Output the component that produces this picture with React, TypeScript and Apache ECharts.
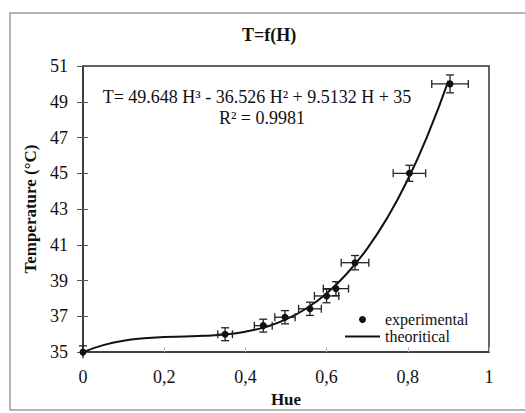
import React, { useEffect, useRef } from "react";
import * as echarts from "echarts";

// Experimental measurements (Hue, Temperature °C) with error bars
const hue = [0, 0.35, 0.444, 0.4975, 0.559, 0.6, 0.623, 0.67, 0.804, 0.904];
const temp = [35, 36, 36.48, 36.95, 37.42, 38.14, 38.55, 40.0, 45.0, 50.0];
const hueErr = [0, 0.018, 0.022, 0.025, 0.028, 0.03, 0.031, 0.034, 0.04, 0.045];
const tempErr = [0.35, 0.36, 0.36, 0.37, 0.37, 0.38, 0.39, 0.4, 0.45, 0.5];

// Theoretical curve
const curveHue = [0, 0.05, 0.1, 0.15, 0.2, 0.25, 0.3, 0.35, 0.4, 0.45, 0.5, 0.55, 0.6, 0.65, 0.7, 0.75, 0.8, 0.85, 0.9];
const curveTemp = [35, 35.39, 35.64, 35.77, 35.84, 35.87, 35.91, 35.98, 36.14, 36.41, 36.83, 37.44, 38.28, 39.39, 40.79, 42.53, 44.65, 47.19, 50.17];

const yTicks = { min: 35, max: 51, interval: 2 };
const xTicks = { min: 0, max: 1, interval: 0.2 };

const FONT = "Liberation Serif";

export default function App() {
  const ref = useRef<HTMLDivElement>(null);
  useEffect(() => {
    if (!ref.current) return;
    const chart = echarts.init(ref.current, null, { renderer: "svg" });
    const expData = hue.map((h, i) => [h, temp[i]]);
    const errData = hue.map((h, i) => [h, temp[i], hueErr[i], tempErr[i]]);
    const curveData = curveHue.map((h, i) => [h, curveTemp[i]]);
    chart.setOption({
      animation: false,
      backgroundColor: "#fff",
      textStyle: { fontFamily: FONT },
      title: {
        text: "T=f(H)",
        left: 264,
        textAlign: "center",
        top: 21,
        textStyle: { fontFamily: FONT, fontSize: 18, fontWeight: "bold", color: "#111" },
      },
      graphic: [
        {
          type: "polyline",
          shape: { points: [[540, 13], [10, 13], [10, 410], [540, 410]] },
          style: { fill: "none", stroke: "#9a9a9a", lineWidth: 1.5 },
          silent: true,
          z: -1,
        },
        {
          type: "text",
          x: 257,
          y: 97,
          style: {
            text: "T= 49.648 H³ - 36.526 H² + 9.5132 H + 35",
            fontFamily: FONT,
            fontSize: 18,
            fill: "#111",
            align: "center",
            verticalAlign: "middle",
          },
        },
        {
          type: "text",
          x: 262,
          y: 118,
          style: {
            text: "R² = 0.9981",
            fontFamily: FONT,
            fontSize: 18,
            fill: "#111",
            align: "center",
            verticalAlign: "middle",
          },
        },
      ],
      legend: {
        orient: "vertical",
        left: 340,
        top: 306,
        itemWidth: 35,
        itemHeight: 7,
        itemGap: 0,
        textStyle: { fontFamily: FONT, fontSize: 16, color: "#111", lineHeight: 17 },
        data: [
          { name: "experimental", icon: "circle", itemStyle: { color: "#111", opacity: 1 } },
          { name: "theoritical", icon: "path://M0 0H35V2H0Z", itemStyle: { color: "#111" } },
        ],
      },
      grid: {
        left: 83,
        right: 36,
        top: 66,
        bottom: 55,
        show: true,
        borderColor: "#333",
        borderWidth: 1.5,
        backgroundColor: "transparent",
      },
      xAxis: {
        type: "value",
        min: xTicks.min,
        max: xTicks.max,
        interval: xTicks.interval,
        name: "Hue",
        nameLocation: "middle",
        nameGap: 26,
        nameTextStyle: { fontFamily: FONT, fontSize: 17, fontWeight: "bold", color: "#111" },
        axisLine: { show: true, lineStyle: { color: "#333", width: 1.5 } },
        axisTick: { show: true, inside: true, length: 5, lineStyle: { color: "#bbb" } },
        splitLine: { show: false },
        axisLabel: {
          margin: 16,
          fontFamily: FONT,
          fontSize: 18,
          color: "#111",
          formatter: (v: number) => String(Math.round(v * 10) / 10).replace(".", ","),
        },
      },
      yAxis: [
        {
          type: "value",
          min: yTicks.min,
          max: yTicks.max,
          interval: yTicks.interval,
          name: "Temperature (°C)",
          nameLocation: "middle",
          nameGap: 41,
          nameRotate: 90,
          nameTextStyle: { fontFamily: FONT, fontSize: 17, fontWeight: "bold", color: "#111" },
          axisLine: { show: true, lineStyle: { color: "#333", width: 1.5 } },
          axisTick: { show: true, inside: false, length: 6, lineStyle: { color: "#555" } },
          splitLine: { show: false },
          axisLabel: { margin: 15, fontFamily: FONT, fontSize: 18, color: "#111" },
        },
        {
          type: "value",
          position: "left",
          min: yTicks.min,
          max: yTicks.max,
          interval: yTicks.interval,
          axisLine: { show: false },
          axisTick: { show: true, inside: true, length: 5, lineStyle: { color: "#555" } },
          axisLabel: { show: false },
          splitLine: { show: false },
        },
      ],
      series: [
        {
          name: "theoritical",
          type: "line",
          data: curveData,
          smooth: true,
          symbol: "none",
          lineStyle: { color: "#111", width: 2 },
          itemStyle: { color: "#111" },
          z: 3,
        },
        {
          name: "errors",
          type: "custom",
          data: errData,
          encode: { x: 0, y: 1 },
          clip: false,
          z: 4,
          renderItem: (params: any, api: any) => {
            const x = api.value(0);
            const y = api.value(1);
            const ex = api.value(2);
            const ey = api.value(3);
            const style = { stroke: "#222", lineWidth: 1.3 };
            const cap = 4;
            const children: any[] = [];
            if (ex > 0) {
              const l = api.coord([x - ex, y]);
              const r = api.coord([x + ex, y]);
              children.push({ type: "line", shape: { x1: l[0], y1: l[1], x2: r[0], y2: r[1] }, style });
              children.push({ type: "line", shape: { x1: l[0], y1: l[1] - cap, x2: l[0], y2: l[1] + cap }, style });
              children.push({ type: "line", shape: { x1: r[0], y1: r[1] - cap, x2: r[0], y2: r[1] + cap }, style });
            }
            if (ey > 0) {
              const t = api.coord([x, y + ey]);
              const b = api.coord([x, y - ey]);
              children.push({ type: "line", shape: { x1: t[0], y1: t[1], x2: b[0], y2: b[1] }, style });
              children.push({ type: "line", shape: { x1: t[0] - cap, y1: t[1], x2: t[0] + cap, y2: t[1] }, style });
              if (y - ey >= yTicks.min) {
                children.push({ type: "line", shape: { x1: b[0] - cap, y1: b[1], x2: b[0] + cap, y2: b[1] }, style });
              }
            }
            return { type: "group", children };
          },
        },
        {
          name: "experimental",
          type: "scatter",
          data: expData,
          symbol: "circle",
          symbolSize: 7,
          itemStyle: { color: "#111", opacity: 1 },
          z: 5,
        },
      ],
    });
    return () => chart.dispose();
  }, []);
  return (
    <div
      ref={ref}
      style={{ position: "fixed", left: 0, top: 0, width: 525, height: 413, background: "#fff" }}
    />
  );
}
